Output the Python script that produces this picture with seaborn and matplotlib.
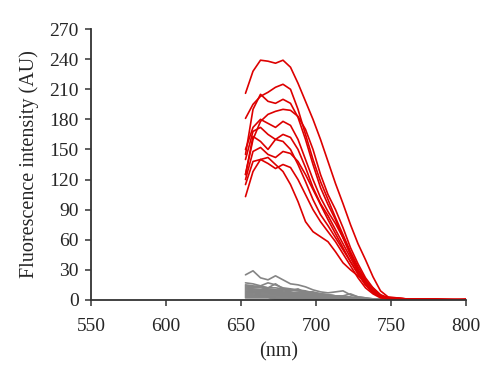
import seaborn as sns
import matplotlib.pyplot as plt
import pandas as pd

# Wavelength grid (nm) shared by all spectra.
wavelength = [653, 658, 663, 668, 673, 678, 683, 688, 693, 698, 703, 708,
              713, 718, 723, 728, 733, 738, 743, 748, 760, 780, 800]

# Red spectra (positive samples).
red_1 = [206, 228, 239, 238, 236, 239, 232, 216, 198, 180, 160, 138, 116, 96, 75, 56, 40, 23, 9, 3, 1, 1, 0]
red_2 = [181, 195, 203, 207, 212, 215, 210, 190, 165, 140, 118, 100, 82, 65, 48, 33, 20, 10, 4, 2, 1, 0, 1]
red_3 = [145, 190, 205, 198, 196, 200, 196, 182, 160, 135, 112, 95, 80, 62, 45, 30, 18, 9, 3, 1, 1, 0, 0]
red_4 = [125, 160, 178, 185, 188, 190, 189, 183, 170, 150, 125, 105, 90, 72, 52, 36, 22, 12, 5, 2, 1, 0, 0]
red_5 = [150, 172, 180, 176, 172, 178, 174, 160, 140, 120, 102, 88, 76, 62, 46, 30, 18, 10, 4, 2, 0, 1, 0]
red_6 = [140, 168, 172, 165, 160, 165, 162, 150, 132, 112, 96, 84, 70, 56, 42, 28, 16, 8, 4, 2, 1, 0, 0]
red_7 = [125, 163, 158, 150, 160, 158, 150, 135, 118, 100, 85, 74, 62, 50, 38, 26, 15, 8, 3, 1, 0, 0, 0]
red_8 = [120, 148, 152, 145, 142, 148, 146, 138, 125, 110, 95, 80, 66, 52, 38, 26, 15, 7, 3, 1, 0, 0, 0]
red_9 = [115, 138, 140, 136, 131, 135, 132, 120, 105, 90, 78, 68, 58, 46, 34, 22, 12, 6, 2, 1, 0, 0, 0]
red_10 = [103, 128, 140, 142, 135, 128, 115, 98, 78, 68, 63, 58, 48, 37, 30, 24, 18, 12, 5, 2, 1, 0, 0]

# Gray spectra (negative samples).
gray_1 = [25, 29, 22, 20, 24, 20, 16, 15, 13, 10, 8, 7, 8, 9, 5, 3, 2, 1, 1, 1, 0, 0, 0]
gray_2 = [17, 16, 14, 17, 15, 12, 11, 10, 9, 7, 6, 5, 4, 4, 6, 3, 2, 1, 1, 0, 0, 0, 0]
gray_3 = [15, 14, 13, 12, 12, 11, 10, 9, 8, 7, 6, 5, 4, 3, 3, 2, 1, 1, 0, 0, 0, 0, 0]
gray_4 = [14, 13, 14, 12, 16, 11, 10, 9, 8, 8, 6, 5, 4, 3, 2, 2, 1, 1, 0, 0, 0, 0, 0]
gray_5 = [13, 12, 12, 11, 10, 10, 9, 11, 7, 6, 5, 4, 4, 3, 2, 1, 1, 0, 0, 0, 0, 0, 0]
gray_6 = [12, 11, 10, 10, 9, 9, 8, 7, 7, 6, 5, 4, 3, 3, 2, 1, 1, 0, 0, 0, 0, 0, 0]
gray_7 = [11, 10, 10, 9, 9, 8, 7, 7, 6, 5, 5, 4, 3, 2, 2, 1, 1, 0, 0, 0, 0, 0, 0]
gray_8 = [10, 9, 9, 8, 8, 7, 7, 6, 5, 5, 4, 3, 3, 2, 1, 1, 0, 0, 0, 0, 0, 0, 0]
gray_9 = [9, 8, 8, 8, 7, 7, 6, 5, 5, 4, 4, 3, 2, 2, 1, 1, 0, 0, 0, 0, 0, 0, 0]
gray_10 = [8, 8, 7, 7, 6, 6, 5, 5, 4, 4, 3, 3, 2, 2, 1, 1, 0, 0, 0, 0, 0, 0, 0]
gray_11 = [7, 7, 6, 6, 6, 5, 5, 4, 4, 3, 3, 2, 2, 1, 1, 0, 0, 0, 0, 0, 0, 0, 0]
gray_12 = [6, 6, 5, 5, 5, 4, 4, 4, 3, 3, 2, 2, 1, 1, 1, 0, 0, 0, 0, 0, 0, 0, 0]
gray_13 = [5, 5, 4, 4, 4, 4, 3, 3, 3, 2, 2, 2, 1, 1, 0, 0, 0, 0, 0, 0, 0, 0, 0]
gray_14 = [4, 4, 4, 3, 3, 3, 3, 2, 2, 2, 1, 1, 1, 0, 0, 0, 0, 0, 0, 0, 0, 0, 0]
gray_15 = [3, 3, 3, 3, 2, 2, 2, 2, 1, 1, 1, 1, 0, 0, 0, 0, 0, 0, 0, 0, 0, 0, 0]
gray_16 = [2, 2, 2, 2, 1, 1, 1, 1, 1, 1, 0, 0, 0, 0, 0, 0, 0, 0, 0, 0, 0, 0, 0]

red_spectra = [red_1, red_2, red_3, red_4, red_5, red_6, red_7, red_8, red_9, red_10]
gray_spectra = [gray_1, gray_2, gray_3, gray_4, gray_5, gray_6, gray_7, gray_8,
                gray_9, gray_10, gray_11, gray_12, gray_13, gray_14, gray_15, gray_16]

# Build a long-form dataframe for seaborn.
rows = []
for i, spectrum in enumerate(gray_spectra):
    for wl, val in zip(wavelength, spectrum):
        rows.append({'wl': wl, 'val': val, 'group': 'gray', 'sample': 'g%d' % i})
for i, spectrum in enumerate(red_spectra):
    for wl, val in zip(wavelength, spectrum):
        rows.append({'wl': wl, 'val': val, 'group': 'red', 'sample': 'r%d' % i})
df = pd.DataFrame(rows)

sns.set_style('ticks')
plt.rcParams['font.family'] = ['Liberation Serif', 'DejaVu Serif']

fig = plt.figure(figsize=(5, 3.83), dpi=100)
ax = fig.add_axes([0.182, 0.217, 0.75, 0.707])

sns.lineplot(data=df, x='wl', y='val', hue='group', units='sample', estimator=None,
             hue_order=['gray', 'red'], palette={'gray': '#858585', 'red': '#dd0000'},
             linewidth=1.2, legend=False, ax=ax)

ax.set_xlim(550, 800)
ax.set_ylim(0, 270)
ax.set_xticks(range(550, 801, 50))
ax.set_yticks(range(0, 271, 30))
ax.tick_params(labelsize=14, length=4, width=1.1, color='#333333', direction='out')
ax.tick_params(axis='x', pad=9)
ax.tick_params(axis='y', pad=5)
ax.set_xlabel('(nm)', fontsize=14.5, labelpad=5)
ax.set_ylabel('Fluorescence intensity (AU)', fontsize=14.5, labelpad=7)
for side in ['left', 'bottom']:
    ax.spines[side].set_linewidth(1.3)
    ax.spines[side].set_color('#333333')
sns.despine(ax=ax)

plt.savefig('out.png', dpi=100)
